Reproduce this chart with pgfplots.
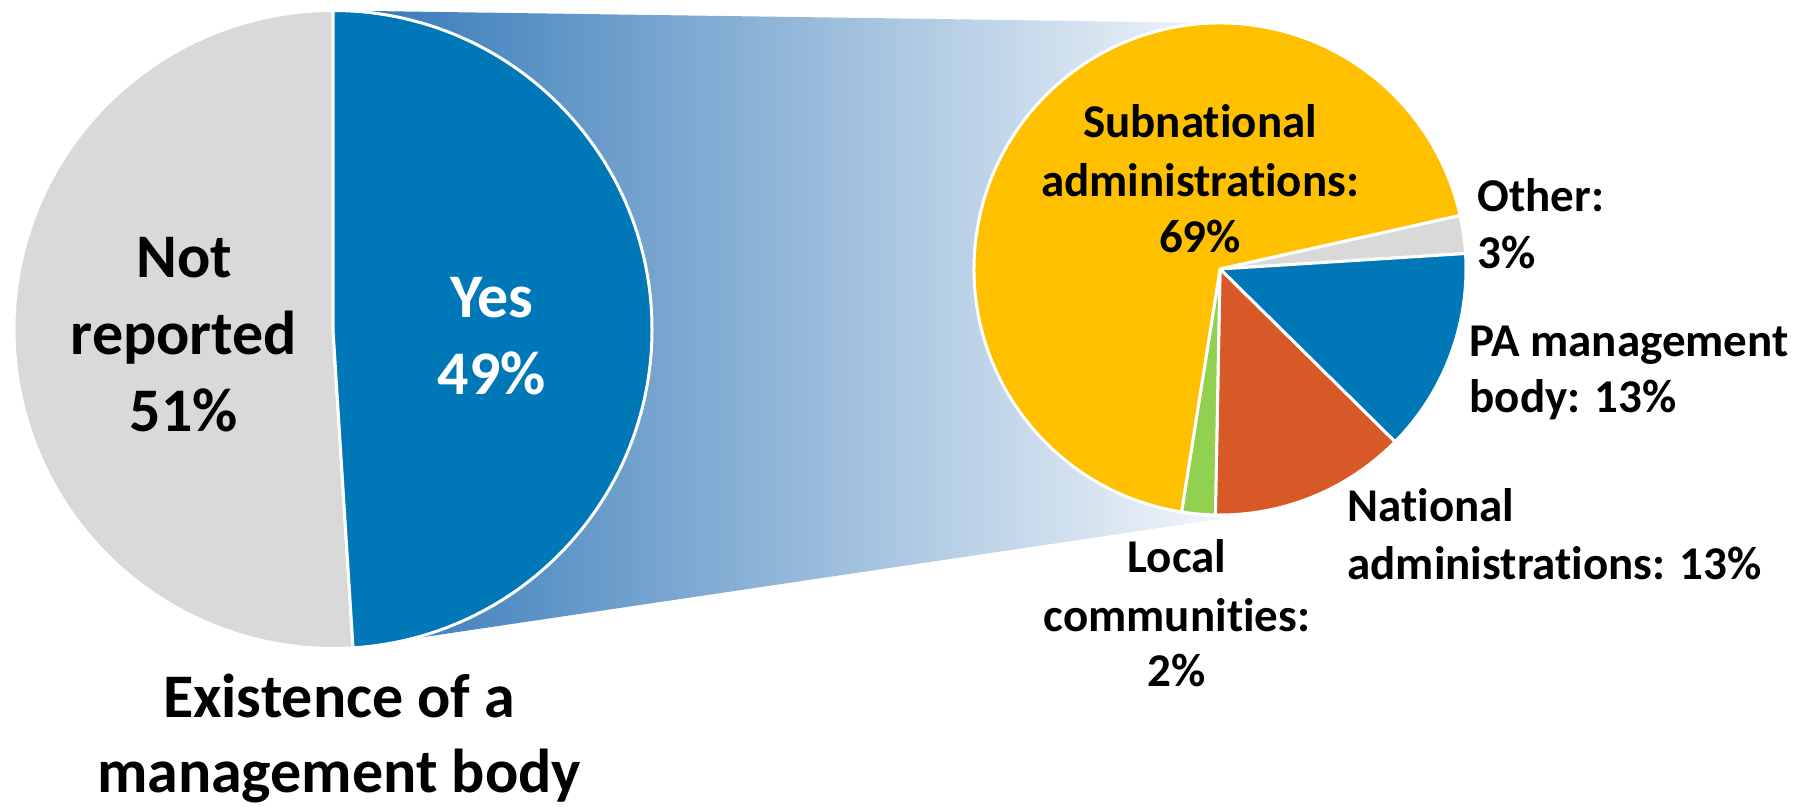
\documentclass[border=0pt]{standalone}
\usepackage{pgfplots}
\pgfplotsset{compat=1.18}
\usepackage{fontspec}
\setmainfont{Carlito}[Ligatures=NoCommon]
\definecolor{npgray}{RGB}{217,217,217}
\definecolor{yesblue}{RGB}{0,119,182}
\definecolor{subor}{RGB}{255,192,0}
\definecolor{natred}{RGB}{214,89,39}
\definecolor{locgreen}{RGB}{146,208,80}
\definecolor{gradblue}{RGB}{46,117,182}
\definecolor{gradend}{RGB}{243,246,250}
\pgfdeclarehorizontalshading{connector}{100bp}{color(0bp)=(gradblue); color(25bp)=(gradblue); color(75bp)=(gradend); color(100bp)=(gradend)}
% pie geometry (pixel units of the reference, y measured upwards)
\def\Lcx{333}\def\Lcy{477.5}\def\Lr{319}
\def\Rcx{1220}\def\Rcy{538}\def\Rr{246}
% slice: cx, cy, r, start angle, end angle, colour
\newcommand\slice[6]{%
  \filldraw[fill=#6, draw=white, line width=1.2pt, line join=round]
    (axis cs:#1,#2) -- ++({#4}:{#3*0.4pt})
    arc[start angle={#4}, end angle={#5}, radius={#3*0.4pt}] -- cycle;}
\tikzset{big/.style={font=\bfseries\fontsize{24.8}{30}\selectfont, inner sep=0pt},
         small/.style={font=\bfseries\fontsize{18.8}{23}\selectfont, inner sep=0pt}}
\begin{document}
\begin{tikzpicture}
\begin{axis}[x=0.4pt, y=0.4pt, xmin=0, xmax=1806, ymin=0, ymax=807,
  hide axis, clip=false]
% connector between the two pies
\shade[shading=connector] (axis cs:333,796.5) -- (axis cs:1220,784)
  -- (axis cs:1220,288) -- (axis cs:350,159) -- cycle;
% left pie: Not reported 51, Yes 49 (percent)
\slice{\Lcx}{\Lcy}{\Lr}{90}{90+51*3.6}{npgray}
\slice{\Lcx}{\Lcy}{\Lr}{90}{90-49*3.6}{yesblue}
% right pie, clockwise from 12.6 deg: Other 2.5, PA 13.4, National 12.9, Local 2.2, Subnational 69.0
\slice{\Rcx}{\Rcy}{\Rr}{12.6}{12.6-2.5*3.6}{npgray}
\slice{\Rcx}{\Rcy}{\Rr}{12.6-2.5*3.6}{12.6-15.9*3.6}{yesblue}
\slice{\Rcx}{\Rcy}{\Rr}{12.6-15.9*3.6}{12.6-28.8*3.6}{natred}
\slice{\Rcx}{\Rcy}{\Rr}{12.6-28.8*3.6}{12.6-31.0*3.6}{locgreen}
\slice{\Rcx}{\Rcy}{\Rr}{12.6-31.0*3.6}{12.6-100*3.6}{subor}
% labels
\node[big, anchor=base] at (axis cs:184,529) {Not};
\node[big, anchor=base] at (axis cs:184,452) {reported};
\node[big, anchor=base] at (axis cs:184,375) {51\%};
\node[big, anchor=base, text=white] at (axis cs:492,489) {Yes};
\node[big, anchor=base, text=white] at (axis cs:492,412) {49\%};
\node[big, anchor=base] at (axis cs:339,89) {Existence of a};
\node[big, anchor=base] at (axis cs:339,14) {management body};
\node[small, anchor=base] at (axis cs:1200,669) {Subnational};
\node[small, anchor=base] at (axis cs:1200,610) {administrations:};
\node[small, anchor=base] at (axis cs:1200,554) {69\%};
\node[small, anchor=base west] at (axis cs:1477,595) {Other:};
\node[small, anchor=base west] at (axis cs:1477,538) {3\%};
\node[small, anchor=base west] at (axis cs:1469,450) {PA management};
\node[small, anchor=base west] at (axis cs:1469,394) {body: 13\%};
\node[small, anchor=base west] at (axis cs:1347,285) {National};
\node[small, anchor=base west] at (axis cs:1347,227) {administrations: 13\%};
\node[small, anchor=base] at (axis cs:1177,234) {Local};
\node[small, anchor=base] at (axis cs:1177,175) {communities:};
\node[small, anchor=base] at (axis cs:1177,120) {2\%};
\end{axis}
\pgfresetboundingbox
\useasboundingbox (current axis.south west) rectangle (current axis.north east);
\end{tikzpicture}
\end{document}
